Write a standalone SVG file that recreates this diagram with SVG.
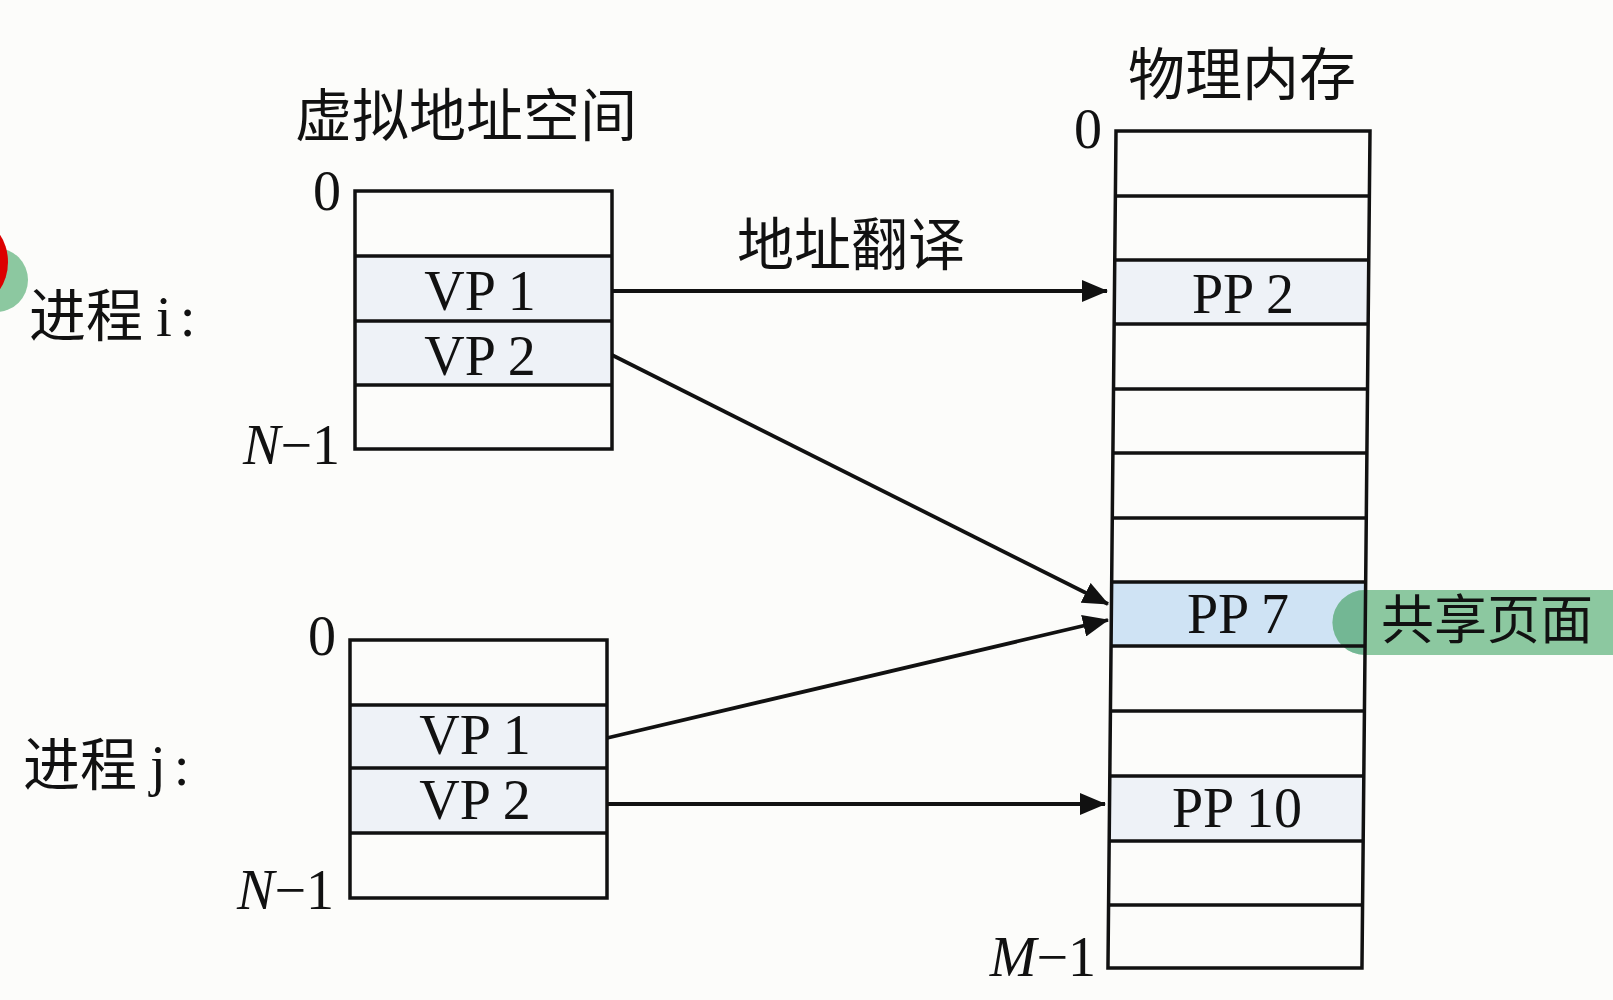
<svg xmlns="http://www.w3.org/2000/svg" width="1613" height="1000" viewBox="0 0 1613 1000">
  <defs>
    <style>
      .bg { fill: #fcfcfa; }
      .cell { fill: none; stroke: #111; stroke-width: 3.5; }
      .rule { stroke: #111; stroke-width: 3.5; }
      .hl { fill: #eef2f7; }
      .hl-strong { fill: #cfe3f4; }
      .lat { font-family: "Liberation Serif", "Noto Sans CJK SC", serif; font-size: 56px; fill: #111; }
      .cjk { font-family: "Liberation Serif", "Noto Sans CJK SC", serif; font-size: 57px; fill: #111; }
      .tag { font-family: "Liberation Serif", "Noto Sans CJK SC", serif; font-size: 53px; fill: #111; }
      .conn { stroke: #111; stroke-width: 3.8; fill: none; marker-end: url(#head); }
    </style>
    <marker id="head" markerUnits="userSpaceOnUse" viewBox="0 0 26 22" markerWidth="26" markerHeight="22" refX="25" refY="11" orient="auto">
      <path d="M0,0 L26,11 L0,22 Z" fill="#111"/>
    </marker>
  </defs>

  <rect class="bg" x="0" y="0" width="1613" height="1000"/>

  <!-- margin marks at the left edge -->
  <g id="margin-marks">
    <circle cx="-4" cy="280" r="32" fill="#8cc8a0"/>
    <ellipse cx="-22" cy="262" rx="30" ry="40" fill="#dd0000"/>
  </g>

  <!-- headings -->
  <g id="headings">
    <text class="cjk" x="466" y="136" text-anchor="middle">虚拟地址空间</text>
    <text class="cjk" x="1242" y="95" text-anchor="middle">物理内存</text>
  </g>

  <!-- process i virtual pages -->
  <g id="process-i">
    <text class="cjk" x="29" y="336">进程<tspan x="156" letter-spacing="8">i:</tspan></text>
    <rect class="hl" x="355" y="256" width="257" height="129"/>
    <rect class="cell" x="355" y="191" width="257" height="258"/>
    <line class="rule" x1="355" y1="256" x2="612" y2="256"/>
    <line class="rule" x1="355" y1="321" x2="612" y2="321"/>
    <line class="rule" x1="355" y1="385" x2="612" y2="385"/>
    <text class="lat" x="480" y="310" text-anchor="middle">VP 1</text>
    <text class="lat" x="480" y="375" text-anchor="middle">VP 2</text>
    <text class="lat" x="327" y="210" text-anchor="middle">0</text>
    <text class="lat" x="340" y="464" text-anchor="end"><tspan font-style="italic">N</tspan>−1</text>
  </g>

  <!-- process j virtual pages -->
  <g id="process-j">
    <text class="cjk" x="23" y="785">进程<tspan x="150" letter-spacing="8">j:</tspan></text>
    <rect class="hl" x="350" y="705" width="257" height="128"/>
    <rect class="cell" x="350" y="640" width="257" height="258"/>
    <line class="rule" x1="350" y1="705" x2="607" y2="705"/>
    <line class="rule" x1="350" y1="768" x2="607" y2="768"/>
    <line class="rule" x1="350" y1="833" x2="607" y2="833"/>
    <text class="lat" x="475" y="754" text-anchor="middle">VP 1</text>
    <text class="lat" x="475" y="819" text-anchor="middle">VP 2</text>
    <text class="lat" x="322" y="655" text-anchor="middle">0</text>
    <text class="lat" x="334" y="909" text-anchor="end"><tspan font-style="italic">N</tspan>−1</text>
  </g>

  <!-- physical memory pages -->
  <g id="physical-memory">
    <rect class="hl" x="1114" y="260" width="254" height="64"/>
    <rect class="hl-strong" x="1112" y="582" width="254" height="64"/>
    <rect class="hl" x="1111" y="776" width="254" height="65"/>
    <!-- shared page tag sits under the page rules -->
    <g id="shared-tag">
      <path d="M1365,590 L1613,590 L1613,655 L1365,655 A32.5,32.5 0 0 1 1365,590 Z" fill="#8cc8a0"/>
      <path d="M1365,590 A32.5,32.5 0 0 0 1365,655 Z" fill="#5fa98a" opacity="0.55"/>
      <text class="tag" x="1487" y="639" text-anchor="middle">共享页面</text>
    </g>
    <g transform="translate(1116,131) skewX(-0.55)">
      <rect class="cell" x="0" y="0" width="254" height="837"/>
      <line class="rule" x1="0" y1="65" x2="254" y2="65"/>
      <line class="rule" x1="0" y1="129" x2="254" y2="129"/>
      <line class="rule" x1="0" y1="193" x2="254" y2="193"/>
      <line class="rule" x1="0" y1="258" x2="254" y2="258"/>
      <line class="rule" x1="0" y1="322" x2="254" y2="322"/>
      <line class="rule" x1="0" y1="387" x2="254" y2="387"/>
      <line class="rule" x1="0" y1="451" x2="254" y2="451"/>
      <line class="rule" x1="0" y1="515" x2="254" y2="515"/>
      <line class="rule" x1="0" y1="580" x2="254" y2="580"/>
      <line class="rule" x1="0" y1="645" x2="254" y2="645"/>
      <line class="rule" x1="0" y1="710" x2="254" y2="710"/>
      <line class="rule" x1="0" y1="774" x2="254" y2="774"/>
    </g>
    <text class="lat" x="1243" y="313" text-anchor="middle">PP 2</text>
    <text class="lat" x="1238" y="633" text-anchor="middle">PP 7</text>
    <text class="lat" x="1237" y="827" text-anchor="middle">PP 10</text>
    <text class="lat" x="1088" y="148" text-anchor="middle">0</text>
    <text class="lat" x="1096" y="976" text-anchor="end"><tspan font-style="italic">M</tspan>−1</text>
  </g>

  <!-- address translation arrows -->
  <g id="connectors">
    <text class="cjk" x="851" y="265" text-anchor="middle">地址翻译</text>
    <line class="conn" x1="612" y1="291" x2="1107" y2="291"/>
    <line class="conn" x1="612" y1="355" x2="1108" y2="604"/>
    <line class="conn" x1="607" y1="738" x2="1108" y2="620"/>
    <line class="conn" x1="607" y1="804" x2="1105" y2="804"/>
  </g>
</svg>
